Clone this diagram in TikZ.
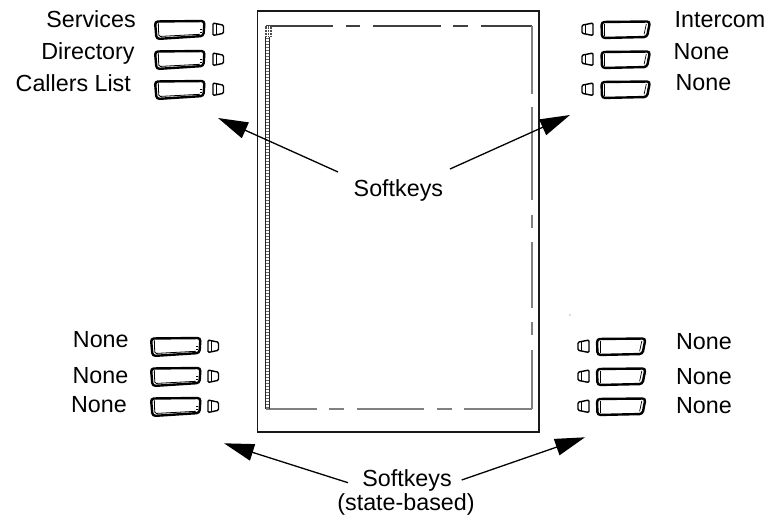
\documentclass[tikz,border=0pt]{standalone}
\usepackage{fontspec}
\setmainfont{Liberation Sans}
\usetikzlibrary{arrows.meta}
\tikzset{
  lbl/.style={font=\fontsize{23.3}{24}\selectfont, inner sep=0pt, anchor=base},
  arr/.style={line width=1.3pt, -{Triangle[length=30pt,width=17pt]}},
  scrtop/.style={line width=1.4pt, draw=black!75},
  scr/.style={line width=1.4pt, draw=black!50},
  bigkeyL/.pic={
    \draw[line width=2.4pt, rounded corners=3pt] (0,-8.5) -- (49.5,-9) -- (48.5,6) -- (1.5,9) -- cycle;
    \draw[line width=0.8pt, rounded corners=1.5pt] (3.3,-6.8) -- (3.8,6.5) -- (45,4.3);
    \draw[line width=0.7pt] (45.3,-0.5) -- (46.8,-0.5) (45.3,2.2) -- (46.8,2.2);
  },
  bigkeyR/.pic={
    \draw[line width=2.4pt, rounded corners=3pt] (0,-8) -- (48.5,-8.5) -- (45.5,7) -- (0.5,8) -- cycle;
    \draw[line width=0.8pt] (3,-6.3) -- (3,6.1);
    \draw[line width=0.7pt] (44.8,-6) -- (42.6,4.3);
  },
  smallkeyL/.pic={
    \draw[line width=1.4pt, rounded corners=1.2pt] (0,-7) -- (10.5,-4.8) -- (10.5,3.3) -- (0,5.5) -- cycle;
    \draw[line width=0.8pt] (3.3,-6.2) -- (3.3,4.7);
  },
  smallkeyR/.pic={
    \draw[line width=1.4pt, rounded corners=1.2pt] (11,-7) -- (0,-4.8) -- (0,3.3) -- (11,5.5) -- cycle;
    \draw[line width=0.8pt] (3.6,-5.5) -- (3.6,4.2);
  },
}
\begin{document}
\begin{tikzpicture}[x=1pt,y=-1pt]
\useasboundingbox (0,0) rectangle (772,524);

% phone display housing
\draw[line width=1.2pt, draw=black!90] (257.5,11) rectangle (539,432);
% screen border
\foreach \a/\b in {266/333,346/360,373/441,453/468,481/532}
  \draw[scrtop] (\a,26) -- (\b,26);
\foreach \a/\b in {266/317,329/344,357/424,437/452,464/532}
  \draw[scr] (\a,409) -- (\b,409);
\foreach \a/\b in {26/94,107/200,215/228,242/308,322/335,350/409}
  \draw[scr] (532,\a) -- (532,\b);
% left strip
\draw[line width=0.9pt, draw=black!85] (265.5,26) -- (265.5,409) (269.2,26) -- (269.2,409);
\draw[line width=3pt, draw=black!60, dash pattern=on 0.7pt off 2.3pt] (267.35,26) -- (267.35,409);
\fill[black!70] (265,26) rectangle (271.5,37);
\draw[line width=0.5pt, white] (267.2,26) -- (267.2,37) (269.4,26) -- (269.4,37) (265,29) -- (271.5,29) (265,32) -- (271.5,32) (265,35) -- (271.5,35);
% stray dot
\fill[black!60] (570,315) circle (0.7);

% top-left keys
\foreach \y in {30,60,90} {
  \pic at (155,\y) {bigkeyL};
  \pic at (213,\y) {smallkeyL};
}
% bottom-left keys
\foreach \y in {347,377,407} {
  \pic at (151,\y) {bigkeyL};
  \pic at (208,\y) {smallkeyL};
}
% top-right keys
\foreach \y in {30,60,90} {
  \pic at (582,\y) {smallkeyR};
  \pic at (601.5,\y) {bigkeyR};
}
% bottom-right keys
\foreach \y in {347,377,407} {
  \pic at (578,\y) {smallkeyR};
  \pic at (597,\y) {bigkeyR};
}

% labels
\node[lbl] (l1) at (91,27.3) {Services};
\node[lbl] (l2) at (88,59.3) {Directory};
\node[lbl] (l3) at (73.3,91.5) {Callers List};
\node[lbl] (r1) at (720,28) {Intercom};
\node[lbl] (r2) at (701.5,60) {None};
\node[lbl] (r3) at (703.4,90.7) {None};
\node[lbl] (bl1) at (100.8,347.7) {None};
\node[lbl] (bl2) at (100.4,383.3) {None};
\node[lbl] (bl3) at (99,412.7) {None};
\node[lbl] (br1) at (704,349.3) {None};
\node[lbl] (br2) at (704,384) {None};
\node[lbl] (br3) at (704,413) {None};

\node[lbl] (sk) at (398.4,196.7) {Softkeys};
\node[lbl] (skb) at (407,486.7) {Softkeys};
\node[lbl] (skc) at (406,510) {(state-based)};

% arrow ends
\coordinate (tlS) at (338,172);  \coordinate (tlT) at (218,118);
\coordinate (trS) at (450,169);  \coordinate (trT) at (570,115);
\coordinate (blS) at (348,482.7);\coordinate (blT) at (224,443.3);
\coordinate (brS) at (461.7,480);\coordinate (brT) at (585,437.3);
\draw[arr] (tlS) -- (tlT);
\draw[arr] (trS) -- (trT);
\draw[arr] (blS) -- (blT);
\draw[arr] (brS) -- (brT);
\end{tikzpicture}
\end{document}
